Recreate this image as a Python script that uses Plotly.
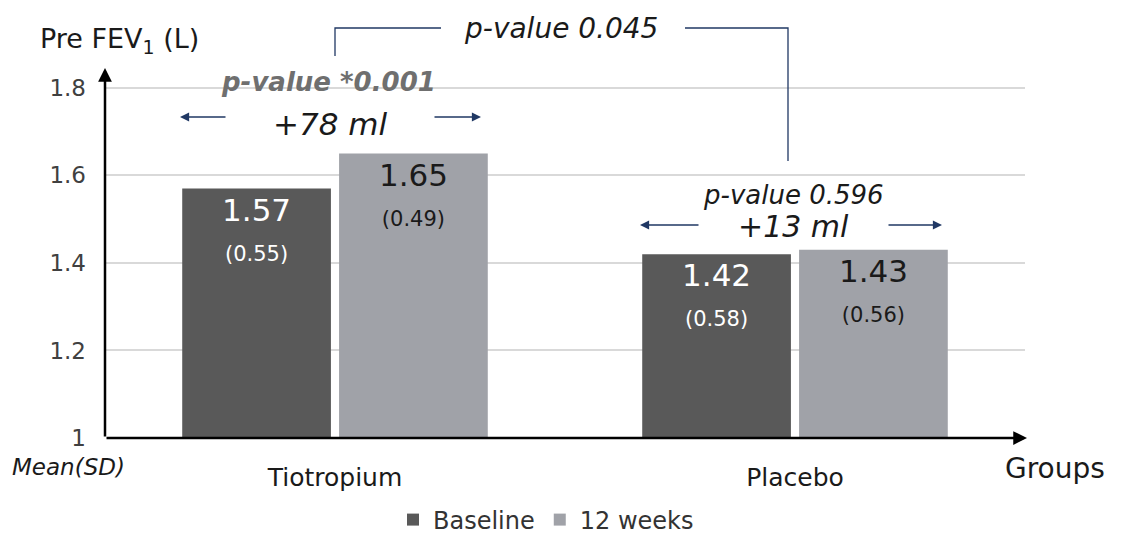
import plotly.graph_objects as go

# ---- data ----
groups = ["Tiotropium", "Placebo"]
baseline_mean = [1.57, 1.42]
baseline_sd = [0.55, 0.58]
week12_mean = [1.65, 1.43]
week12_sd = [0.49, 0.56]
series_names = ["Baseline", "12 weeks"]
y_ticks = [1.0, 1.2, 1.4, 1.6, 1.8]
y_ticklabels = ["1", "1.2", "1.4", "1.6", "1.8"]

FONT = "DejaVu Sans"
W, H = 1126, 533
OFF = 8  # default page body margin
# plot area in page pixels
PL, PR, PT, PB = 105, 1025, 66, 438
ML, MR, MT, MB = PL - OFF, W - (PR - OFF), PT - OFF, H - (PB - OFF)
PW, PH = PR - PL, PB - PT


def px_x(p):
    return (p - PL) / PW


def px_y(p):
    return (PB - p) / PH


def label(m, s):
    return f"{m:.2f}<br><span style='font-size:21px'>({s:.2f})</span>"


fig = go.Figure()
fig.add_trace(go.Bar(
    x=groups, y=baseline_mean, name=series_names[0],
    marker=dict(color="#595959", line=dict(width=0)),
    text=[label(m, s) for m, s in zip(baseline_mean, baseline_sd)],
    textposition="inside", insidetextanchor="end",
    textfont=dict(family=FONT, size=31, color="white"),
    cliponaxis=False,
))
fig.add_trace(go.Bar(
    x=groups, y=week12_mean, name=series_names[1],
    marker=dict(color="#a0a2a8", line=dict(width=0)),
    text=[label(m, s) for m, s in zip(week12_mean, week12_sd)],
    textposition="inside", insidetextanchor="end",
    textfont=dict(family=FONT, size=31, color="#1a1a1a"),
    cliponaxis=False,
))

navy = "#203864"
anns = []
# y-axis arrow
anns.append(dict(xref="paper", yref="paper", x=0, y=px_y(68), ax=0, ay=370,
                 axref="pixel", ayref="pixel", showarrow=True, arrowhead=2,
                 arrowsize=1.1, arrowwidth=2.5, arrowcolor="black", text=""))
# x-axis arrow
anns.append(dict(xref="paper", yref="paper", x=px_x(1027), y=0, ax=-922, ay=0,
                 showarrow=True, arrowhead=2, arrowsize=1.1, arrowwidth=2.5,
                 arrowcolor="black", text=""))
# small difference arrows
for tip, tail, yy in [(180, 227, 117), (481, 433, 117), (640, 700, 225), (942, 887, 225)]:
    anns.append(dict(xref="paper", yref="paper", x=px_x(tip), y=px_y(yy),
                     ax=tail - tip, ay=0, showarrow=True, arrowhead=2,
                     arrowsize=1.3, arrowwidth=1.4, arrowcolor=navy, text=""))


def txt(t, x, y, size, color="#1a1a1a", xanchor="center", family=FONT):
    anns.append(dict(xref="paper", yref="paper", x=px_x(x), y=px_y(y), text=t,
                     showarrow=False, xanchor=xanchor, yanchor="middle",
                     font=dict(family=family, size=size, color=color)))


txt("Pre FEV<sub>1</sub> (L)", 38, 40, 27, xanchor="left")
txt("<i>p-value 0.045</i>", 561, 28, 28)
txt("<b><i>p-value *0.001</i></b>", 328, 82, 26, color="#6f6f6f")
txt("<i>+78 ml</i>", 330, 124, 31)
txt("<i>p-value 0.596</i>", 793, 195, 26)
txt("<i>+13 ml</i>", 793, 227, 30)
txt("<i>Mean(SD)</i>", 10, 467, 23, xanchor="left")
txt("Groups", 1003, 468, 28, xanchor="left")

shapes = [
    dict(type="path", xref="paper", yref="paper",
         path=f"M{px_x(335)},{px_y(56)} L{px_x(335)},{px_y(28)} L{px_x(441)},{px_y(28)}",
         line=dict(color=navy, width=1.3)),
    dict(type="path", xref="paper", yref="paper",
         path=f"M{px_x(685)},{px_y(28)} L{px_x(788)},{px_y(28)} L{px_x(788)},{px_y(161)}",
         line=dict(color=navy, width=1.3)),
]

fig.update_layout(
    width=W, height=H,
    margin=dict(l=ML, r=MR, t=MT, b=MB, autoexpand=False),
    plot_bgcolor="white", paper_bgcolor="white",
    barmode="group", bargap=0.318, bargroupgap=0.052,
    font=dict(family=FONT, color="#1a1a1a"),
    xaxis=dict(showline=False, showgrid=False, ticks="", ticklabelstandoff=22,
               tickfont=dict(family=FONT, size=25, color="#1a1a1a"),
               zeroline=False, automargin=False),
    yaxis=dict(range=[1, 1.85], tickvals=y_ticks, ticktext=y_ticklabels,
               showline=False, zeroline=False, showgrid=True,
               gridcolor="#d9d9d9", gridwidth=1.5, ticks="",
               ticklabelstandoff=18, automargin=False,
               tickfont=dict(family=FONT, size=23, color="#404040")),
    legend=dict(orientation="h", xref="container", yref="container",
                x=(393 - OFF) / W, y=1 - (520 - OFF) / H, xanchor="left",
                yanchor="middle", font=dict(family=FONT, size=24, color="#333333"),
                itemwidth=30, bgcolor="rgba(0,0,0,0)"),
    annotations=anns, shapes=shapes,
    uniformtext=dict(mode=False),
)

fig.write_html("out.html")
